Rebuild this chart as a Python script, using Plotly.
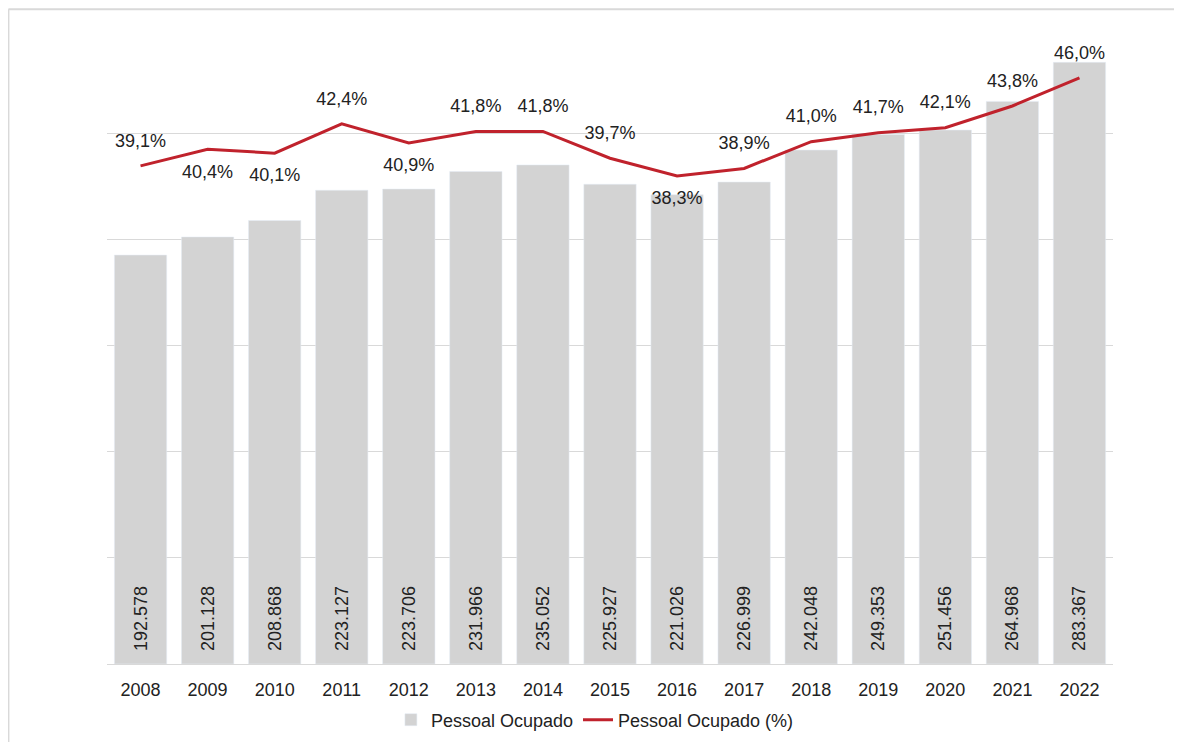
import plotly.graph_objects as go

# Dados: pessoal ocupado por ano e participação (%)
anos = ['2008', '2009', '2010', '2011', '2012', '2013', '2014', '2015',
        '2016', '2017', '2018', '2019', '2020', '2021', '2022']
pessoal = [192578, 201128, 208868, 223127, 223706, 231966, 235052, 225927,
           221026, 226999, 242048, 249353, 251456, 264968, 283367]
pessoal_pct = [39.1, 40.4, 40.1, 42.4, 40.9, 41.8, 41.8, 39.7,
               38.3, 38.9, 41.0, 41.7, 42.1, 43.8, 46.0]
pos_rotulo = ['top center', 'bottom center', 'bottom center', 'top center',
              'bottom center', 'top center', 'top center', 'top center',
              'bottom center', 'top center', 'top center', 'top center',
              'top center', 'top center', 'top center']

fonte = 'Liberation Sans, Arial, sans-serif'
cinza = '#d3d3d3'
vermelho = '#c0222c'
# espaçador invisível (no início do texto = perto da base, pois o texto gira -90°)
espaco = '<span style="color:rgba(0,0,0,0)">0</span>'


def fmt_milhar(v):
    return espaco + f'{v:,}'.replace(',', '.')


def fmt_pct(v):
    return f'{v:.1f}%'.replace('.', ',')


fig = go.Figure()
fig.add_trace(go.Bar(name='Pessoal Ocupado', x=anos, y=pessoal,
                     marker_color=cinza,
                     text=[fmt_milhar(v) for v in pessoal],
                     textposition='inside', insidetextanchor='start',
                     textangle=-90,
                     textfont=dict(family=fonte, size=18, color='#222222'),
                     cliponaxis=False))
fig.add_trace(go.Scatter(name='Pessoal Ocupado (%)', x=anos, y=pessoal_pct,
                         yaxis='y2', mode='lines+markers+text',
                         line=dict(color=vermelho, width=3),
                         marker=dict(size=22, color='rgba(0,0,0,0)'),
                         text=[fmt_pct(v) for v in pessoal_pct],
                         textposition=pos_rotulo,
                         textfont=dict(family=fonte, size=18, color='#222222'),
                         cliponaxis=False))

# o navegador desloca a figura 8px (margem do body), por isso 1174x734
fig.update_layout(
    width=1174, height=734,
    margin=dict(l=99, r=69, t=19, b=78),
    paper_bgcolor='white', plot_bgcolor='white',
    font=dict(family=fonte, size=18, color='#222222'),
    bargap=0.22,
    showlegend=True,
    legend=dict(orientation='h', x=0.485, xanchor='center',
                yref='container', y=0.03, yanchor='middle',
                font=dict(size=18), traceorder='normal'),
    xaxis=dict(type='category', range=[-0.5, 14.5], showgrid=False,
               showline=True, linecolor='#d9d9d9', linewidth=1, ticks='',
               ticklabelstandoff=9, automargin=False,
               tickfont=dict(size=18, color='#222222')),
    yaxis=dict(range=[0, 300000], dtick=50000, showgrid=True,
               gridcolor='#d9d9d9', gridwidth=1, showticklabels=False,
               zeroline=False, ticks='', automargin=False),
    yaxis2=dict(range=[0, 50], overlaying='y', side='right',
                showgrid=False, showticklabels=False, zeroline=False,
                automargin=False),
    shapes=[dict(type='line', xref='paper', yref='paper',
                 x0=-0.098, x1=1.08, y0=1.028, y1=1.028,
                 line=dict(color='#d9d9d9', width=2)),
            dict(type='line', xref='paper', yref='paper',
                 x0=-0.098, x1=-0.098, y0=1.028, y1=-0.13,
                 line=dict(color='#d9d9d9', width=2))],
)

fig.write_html('out.html')
